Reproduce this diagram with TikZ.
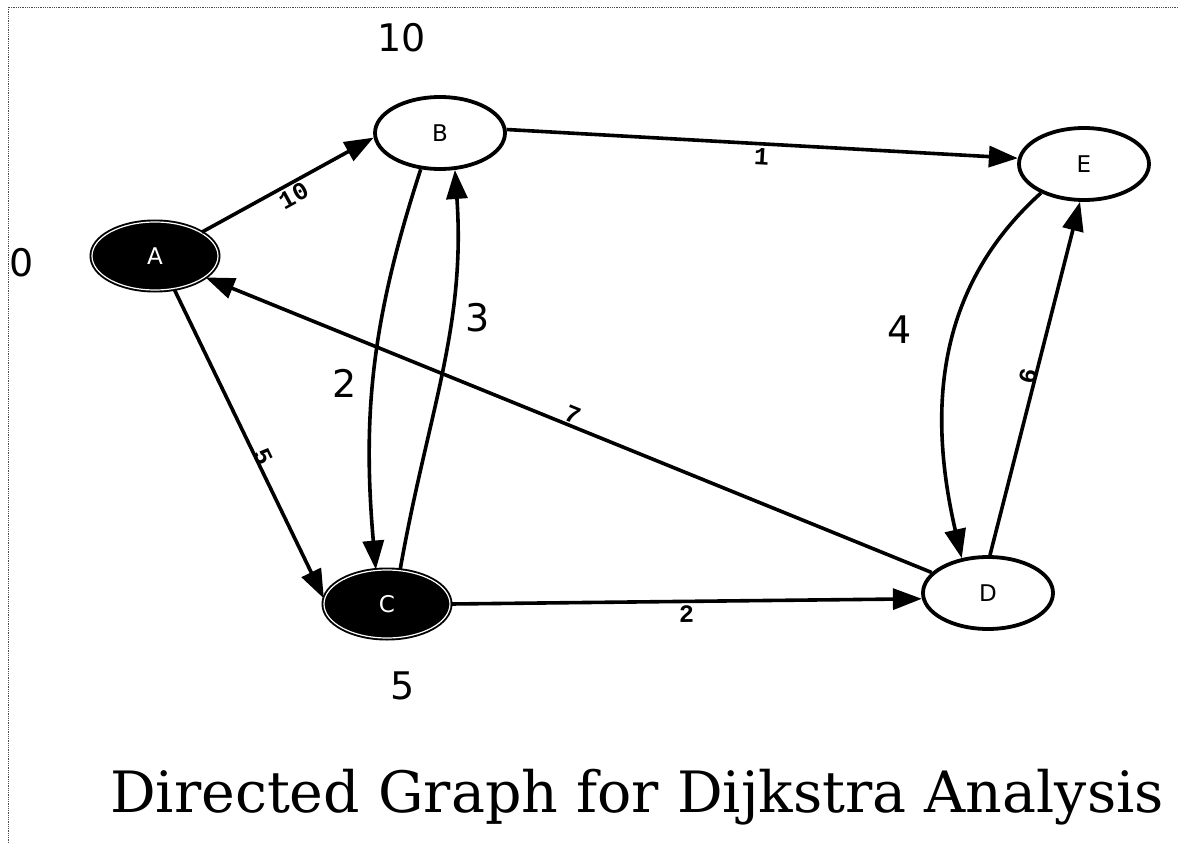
\documentclass[tikz,border=0pt]{standalone}
\usepackage{fontspec}
\setmainfont{DejaVu Serif}
\newfontfamily\bigsans{DejaVu Sans}
\newfontfamily\labmono{Liberation Mono}
\usetikzlibrary{arrows.meta,shapes.geometric}
\tikzset{
  vert/.style={ellipse, draw=black, line width=3.8pt, fill=white, minimum width=130pt, minimum height=72pt, inner sep=0pt, font=\bigsans\fontsize{23}{23}\selectfont},
  donevert/.style={ellipse, draw=black, line width=1.9pt, double=white, double distance=1.2pt, fill=black, text=white, minimum width=126pt, minimum height=68pt, inner sep=0pt, font=\bigsans\fontsize{23}{23}\selectfont},
  edge/.style={line width=3.6pt, -{Triangle[length=29pt,width=21pt]}},
  wlab/.style={font=\labmono\bfseries\fontsize{25}{25}\selectfont, inner sep=1pt, sloped},
  biglab/.style={font=\bigsans\fontsize{38}{38}\selectfont, inner sep=0pt},
  frame/.style={densely dotted, line width=0.8pt, black!70}
}
\begin{document}
\begin{tikzpicture}[x=1pt,y=-1pt]
\useasboundingbox (0,0) rectangle (1179,843);
\draw[frame] (8,843) -- (8,7) -- (1179,7);
\node[donevert] (A) at (155,256) {A};
\node[vert] (B) at (440,133) {B};
\node[donevert] (C) at (387,604) {C};
\node[vert] (D) at (988,593) {D};
\node[vert] (E) at (1084,164) {E};
\draw[edge] (A.27) -- node[wlab, pos=0.5, below=1pt] {10} (B.184);
\draw[edge] (B.3) -- node[wlab, pos=0.5, below=2pt] {1} (E.175);
\draw[edge] (A.-60) -- node[wlab, pos=0.55, above=-4pt] {5} (C.175);
\draw[edge] (B.242) to[out=-108, in=95] (C.108);
\draw[edge] (C.69) to[out=80, in=-86] (B.292);
\draw[edge] (D.160) -- node[wlab, pos=0.5, above=0pt] {7} (A.337);
\draw[edge] (C.0) -- node[wlab, pos=0.5, below=1pt] {2} (D.185);
\draw[edge] (E.214) to[out=222, in=103] (D.127);
\draw[edge] (D.87) -- node[wlab, pos=0.5, above=-4pt] {6} (E.264);
\node[biglab] (l10) at (402,38) {10};
\node[biglab] (l0) at (22,263) {0};
\node[biglab] (l5) at (403,686) {5};
\node[biglab] (l2) at (345,383) {2};
\node[biglab] (l3) at (478,318) {3};
\node[biglab] (l4) at (900,330) {4};
\node[font=\fontsize{57}{57}\selectfont, anchor=base, inner sep=0pt] (title) at (637,812) {Directed Graph for Dijkstra Analysis};
\end{tikzpicture}
\end{document}
